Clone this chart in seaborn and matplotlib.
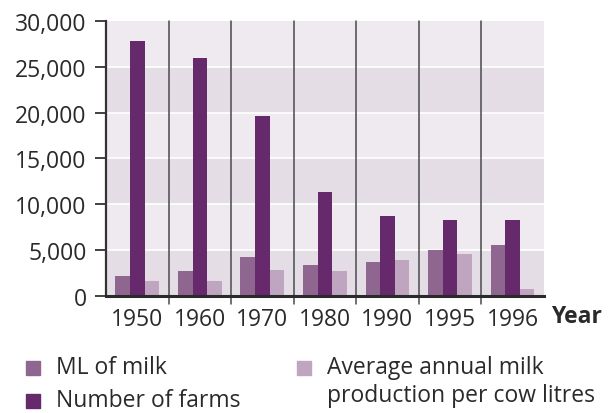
import matplotlib
matplotlib.use("Agg")
import matplotlib.pyplot as plt
from matplotlib.patches import Rectangle
from matplotlib.ticker import FuncFormatter
import seaborn as sns
import pandas as pd

# Dairy statistics by year
years = ["1950", "1960", "1970", "1980", "1990", "1995", "1996"]
ml_of_milk = [2200, 2700, 4250, 3400, 3700, 5000, 5600]
number_of_farms = [27800, 26000, 19600, 11300, 8700, 8300, 8300]
avg_per_cow = [1600, 1600, 2800, 2700, 3900, 4600, 750]

series_names = ["ML of milk", "Number of farms",
                "Average annual milk\nproduction per cow litres"]
series_colors = ["#8e6690", "#66296b", "#bfa5bf"]

rows = []
for name, vals in zip(series_names, [ml_of_milk, number_of_farms, avg_per_cow]):
    for y, v in zip(years, vals):
        rows.append({"Year": y, "Series": name, "Value": v})
df = pd.DataFrame(rows)

sns.set_theme(style="white")
plt.rcParams["font.family"] = ["Open Sans", "DejaVu Sans"]

fig = plt.figure(figsize=(6.1, 4.14), dpi=100)
ax = fig.add_axes([0.1738, 0.2826, 0.8915 - 0.1738, 0.9469 - 0.2826])

# alternating horizontal bands
band_dark = "#e4dde5"
band_light = "#efeaf0"
for i, lo in enumerate(range(0, 30000, 5000)):
    ax.axhspan(lo, lo + 5000, color=band_dark if i % 2 == 0 else band_light,
               zorder=0, lw=0)
for lo in range(5000, 30000, 5000):
    ax.axhline(lo, color="white", lw=1.2, zorder=0.5)

sns.barplot(data=df, x="Year", y="Value", hue="Series", order=years,
            hue_order=series_names, palette=series_colors, width=0.7,
            saturation=1, ax=ax, legend=False, zorder=2, linewidth=0,
            edgecolor="none")

# group separators, extending below the axis
for i in range(len(years) - 1):
    ax.plot([i + 0.5, i + 0.5], [-900, 30000], color="#4a4a4a", lw=1.1,
            clip_on=False, zorder=3)

ax.set_xlim(-0.5, len(years) - 0.5)
ax.set_ylim(0, 30000)
ax.set_yticks(range(0, 30001, 5000))
ax.yaxis.set_major_formatter(FuncFormatter(lambda v, p: f"{int(v):,}"))
ax.tick_params(axis="y", which="major", length=8, width=1.3, color="#333333",
               labelsize=16.5, labelcolor="#2a2a2a", pad=6, left=True)
ax.tick_params(axis="x", length=0, labelsize=16.5, labelcolor="#2a2a2a", pad=8)
ax.set_xlabel("")
ax.set_ylabel("")

for s in ["top", "right"]:
    ax.spines[s].set_visible(False)
ax.spines["left"].set_color("#333333")
ax.spines["left"].set_linewidth(1.6)
ax.spines["bottom"].set_color("#2a2a2a")
ax.spines["bottom"].set_linewidth(2.2)
ax.spines["left"].set_zorder(4)
ax.spines["bottom"].set_zorder(4)

fig.text(551 / 610, 1 - 317 / 414, "Year", fontsize=16.5, fontweight="bold",
         color="#2a2a2a", ha="left", va="center")

# legend
W, H = 610, 414
legend_items = [
    (26, 362, series_colors[0], "ML of milk"),
    (26, 395, series_colors[1], "Number of farms"),
    (297, 362, series_colors[2], "Average annual milk\nproduction per cow litres"),
]
for x, y, c, label in legend_items:
    fig.patches.append(Rectangle((x / W, 1 - (y + 14) / H), 14 / W, 14 / H,
                                 transform=fig.transFigure, color=c,
                                 figure=fig))
    fig.text((x + 30) / W, 1 - (y - 6) / H, label, fontsize=16.5,
             color="#2a2a2a", ha="left", va="top", linespacing=1.25)

fig.savefig("out.png", dpi=100)
